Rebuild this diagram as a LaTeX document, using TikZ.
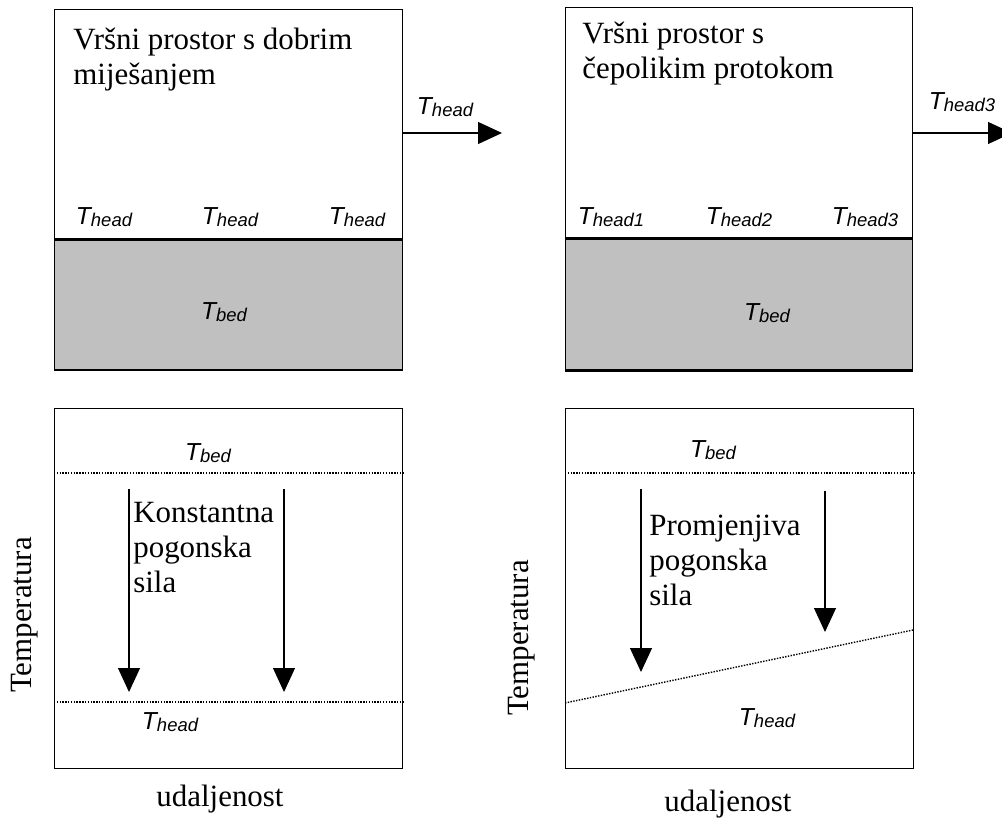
\documentclass[tikz,border=0pt]{standalone}
\usepackage{fontspec}
\setmainfont{Liberation Serif}
\setsansfont{Liberation Sans}
\usetikzlibrary{arrows.meta, positioning}
\definecolor{bedgray}{HTML}{C0C0C0}
\def\panelwidth{6.96cm}
\def\gaslen{4.58cm}
\def\bedlen{2.6cm}
\def\plotlen{7.2cm}
\def\labelfont{\fontsize{17.6}{19.8}\selectfont}
\newcommand{\Tsym}[1]{{\sffamily\itshape\fontsize{14}{14}\selectfont T\raisebox{-1pt}{\fontsize{10.5}{10.5}\selectfont #1}}}
\tikzset{
% Panels
panel/.style={
	draw, line width=0.8pt, rectangle, inner sep=0pt,
	minimum width=\panelwidth, anchor=north west,
	},
headspace/.style={panel, minimum height=\gaslen},
bed/.style={panel, fill=bedgray, minimum height=\bedlen},
plot/.style={panel, minimum height=\plotlen},
% Texts
caption/.style={
	font=\labelfont, align=left, inner sep=0pt, anchor=north west,
	},
axis/.style={font=\labelfont, inner sep=0pt},
temp/.style={inner sep=0pt},
% Connections
flow/.style={
	line width=0.6pt, -{Triangle[length=0.48cm, width=0.44cm]},
	},
level/.style={
	line width=0.8pt, dash pattern=on 0.8pt off 0.8pt,
	},
}

\begin{document}
\begin{tikzpicture}[x=0.02cm, y=-0.02cm]
		\useasboundingbox (0,0) rectangle (1002,820);

		% Well mixed headspace
		\node[headspace] (mixhead) at (54,9) {};
		\node[bed] (mixbed) at (mixhead.south west) {};
		\node[caption] (mixtitle) at (73,28) {Vršni prostor s dobrim\\miješanjem};
		\node[temp] (mixT1) at (104,217) {\Tsym{head}};
		\node[temp] (mixT2) at (230,217) {\Tsym{head}};
		\node[temp] (mixT3) at (357,217) {\Tsym{head}};
		\node[temp] (mixTbed) at (224,312) {\Tsym{bed}};
		\coordinate (mixout) at (502,133);
		\draw[flow] (mixout -| mixhead.east) -- (mixout);
		\node[temp] (mixTout) at (445,107) {\Tsym{head}};

		% Plug flow headspace
		\node[headspace, minimum width=6.94cm, minimum height=4.6cm] (plughead) at (565,7) {};
		\node[bed, minimum width=6.94cm, minimum height=2.62cm] (plugbed) at (plughead.south west) {};
		\draw[line width=1.6pt] (plugbed.south west) -- (plugbed.south east);
		\node[caption] (plugtitle) at (582,22) {Vršni prostor s\\čepolikim protokom};
		\node[temp] (plugT1) at (611,217) {\Tsym{head1}};
		\node[temp] (plugT2) at (739,217) {\Tsym{head2}};
		\node[temp] (plugT3) at (865,217) {\Tsym{head3}};
		\node[temp] (plugTbed) at (767,313) {\Tsym{bed}};
		\coordinate (plugout) at (1012,133);
		\draw[flow] (plugout -| plughead.east) -- (plugout);
		\node[temp] (plugTout) at (962,102) {\Tsym{head3}};

		% Constant driving force
		\node[plot] (mixplot) at (54,408) {};
		\coordinate (mixbedlvl) at (0,473);
		\coordinate (mixheadlvl) at (0,702);
		\draw[level] (mixbedlvl -| mixplot.west) -- (mixbedlvl -| mixplot.east);
		\draw[level] (mixheadlvl -| mixplot.west) -- (mixheadlvl -| mixplot.east);
		\node[temp] (mixplotTbed) at (208,453) {\Tsym{bed}};
		\node[temp] (mixplotThead) at (170,722) {\Tsym{head}};
		\coordinate (mixdriveA) at (129,489);
		\coordinate (mixdriveB) at (284,489);
		\draw[flow] (mixdriveA) -- (mixdriveA |- 0,692);
		\draw[flow] (mixdriveB) -- (mixdriveB |- 0,692);
		\node[caption] (mixforce) at (133,502) {Konstantna\\pogonska\\sila};
		\node[axis, rotate=90] (mixyaxis) at (25,615) {Temperatura};
		\node[axis, anchor=base] (mixxaxis) at (220,807) {udaljenost};

		% Variable driving force
		\node[plot, minimum width=6.96cm] (plugplot) at (565,408) {};
		\coordinate (plugbedlvl) at (0,473);
		\draw[level] (plugbedlvl -| plugplot.west) -- (plugbedlvl -| plugplot.east);
		\coordinate (plugheadA) at (565,703);
		\coordinate (plugheadB) at (913,630);
		\draw[level] (plugheadA) -- (plugheadB);
		\node[temp] (plugplotTbed) at (713,450) {\Tsym{bed}};
		\node[temp] (plugplotThead) at (767,718) {\Tsym{head}};
		\coordinate (plugdriveA) at (641,489);
		\coordinate (plugdriveB) at (825,491);
		\draw[flow] (plugdriveA) -- (plugdriveA |- 0,672);
		\draw[flow] (plugdriveB) -- (plugdriveB |- 0,632);
		\node[caption] (plugforce) at (649,515) {Promjenjiva\\pogonska\\sila};
		\node[axis, rotate=90] (plugyaxis) at (522,638) {Temperatura};
		\node[axis, anchor=base] (plugxaxis) at (728,812) {udaljenost};
\end{tikzpicture}
\end{document}
